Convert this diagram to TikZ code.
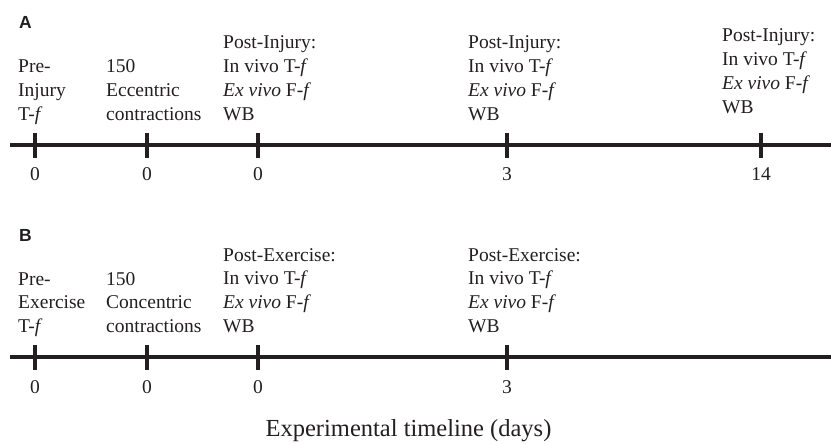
\documentclass[tikz,border=0pt]{standalone}
\usepackage{fontspec}
\setmainfont{Liberation Serif}
\newfontfamily\panelfont{Liberation Sans}
\definecolor{ink}{HTML}{231F20}
\begin{document}
\begin{tikzpicture}[x=1pt,y=-1pt,
  axisline/.style={draw=ink,line width=3.5pt},
  tickmark/.style={draw=ink,line width=3.5pt},
  coltext/.style={anchor=base west,inner sep=0pt,text=ink,font=\fontsize{19.5}{23.8}\selectfont},
  daylab/.style={anchor=base,inner sep=0pt,text=ink,font=\fontsize{19.5}{23.8}\selectfont},
  panellab/.style={anchor=base west,inner sep=0pt,text=ink,font=\panelfont\bfseries\fontsize{17.5}{20}\selectfont},
  axtitle/.style={anchor=base,inner sep=0pt,text=ink,font=\fontsize{24.5}{28}\selectfont}]
\useasboundingbox (0,0) rectangle (831,444);
\newcommand{\col}[1]{\begin{tabular}[t]{@{}l@{}}#1\end{tabular}}
% ---------- Panel A ----------
\node[panellab] (pA) at (19,28.5) {A};
\coordinate (aL) at (10,145);
\coordinate (aR) at (831,145);
\draw[axisline] (aL) -- (aR);
\foreach \x/\n in {35/a1,147/a2,258/a3,507/a4,761/a5}{
  \coordinate (\n top) at (\x,133);
  \coordinate (\n bot) at (\x,157.5);
  \draw[tickmark] (\n top) -- (\n bot);
}
\node[coltext] (tA1) at (18,73) {\col{Pre-\\Injury\\T-\textit{f}}};
\node[coltext] (tA2) at (106,73) {\col{150\\Eccentric\\contractions}};
\node[coltext] (tA3) at (223,49) {\col{Post-Injury:\\In vivo T-\textit{f}\\\textit{Ex vivo} F-\textit{f}\\WB}};
\node[coltext] (tA4) at (468,49) {\col{Post-Injury:\\In vivo T-\textit{f}\\\textit{Ex vivo} F-\textit{f}\\WB}};
\node[coltext] (tA5) at (722,42) {\col{Post-Injury:\\In vivo T-\textit{f}\\\textit{Ex vivo} F-\textit{f}\\WB}};
\node[daylab] (dA1) at (35,180) {0};
\node[daylab] (dA2) at (147,180) {0};
\node[daylab] (dA3) at (258,180) {0};
\node[daylab] (dA4) at (507,180) {3};
\node[daylab] (dA5) at (761,180) {14};
% ---------- Panel B ----------
\node[panellab] (pB) at (19,241) {B};
\coordinate (bL) at (10,357);
\coordinate (bR) at (831,357);
\draw[axisline] (bL) -- (bR);
\foreach \x/\n in {35/b1,147/b2,258/b3,507/b4}{
  \coordinate (\n top) at (\x,345);
  \coordinate (\n bot) at (\x,369.5);
  \draw[tickmark] (\n top) -- (\n bot);
}
\node[coltext] (tB1) at (18,285) {\col{Pre-\\Exercise\\T-\textit{f}}};
\node[coltext] (tB2) at (106,285) {\col{150\\Concentric\\contractions}};
\node[coltext] (tB3) at (223,261) {\col{Post-Exercise:\\In vivo T-\textit{f}\\\textit{Ex vivo} F-\textit{f}\\WB}};
\node[coltext] (tB4) at (468,261) {\col{Post-Exercise:\\In vivo T-\textit{f}\\\textit{Ex vivo} F-\textit{f}\\WB}};
\node[daylab] (dB1) at (35,393) {0};
\node[daylab] (dB2) at (147,393) {0};
\node[daylab] (dB3) at (258,393) {0};
\node[daylab] (dB4) at (507,393) {3};
% ---------- axis title ----------
\node[axtitle] (xt) at (408.5,436) {Experimental timeline (days)};
\end{tikzpicture}
\end{document}
